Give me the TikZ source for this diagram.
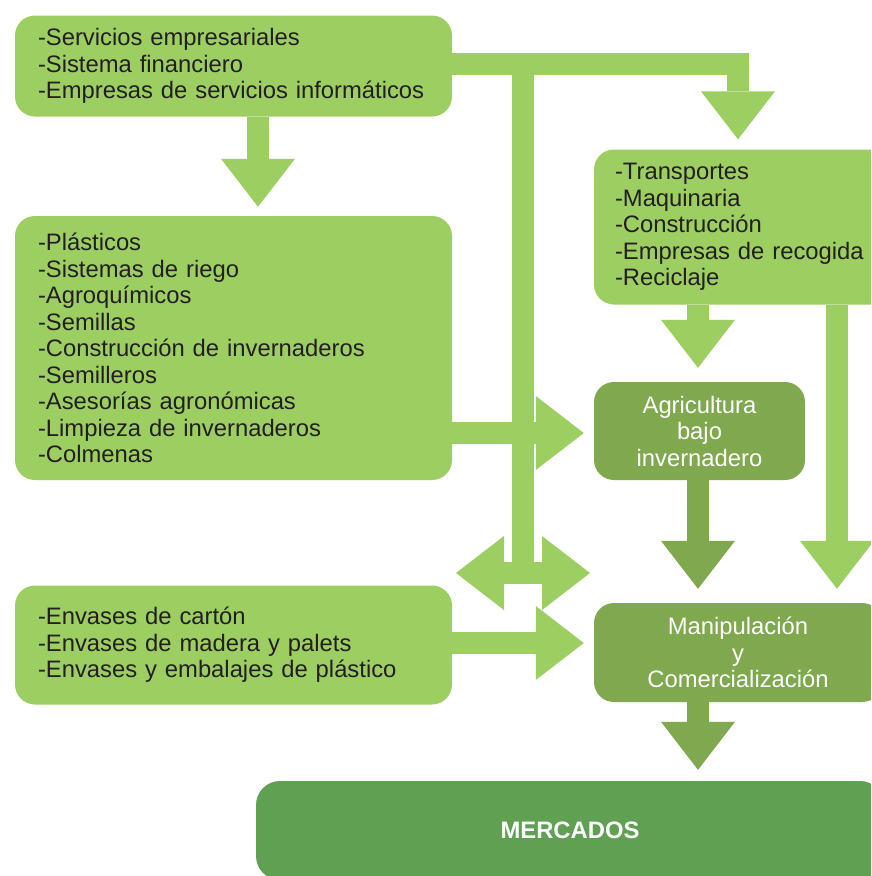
\documentclass[tikz,border=0pt]{standalone}
\usepackage{fontspec}
\setmainfont{Liberation Sans}
\usetikzlibrary{arrows.meta}
\definecolor{lightg}{RGB}{157,206,98}
\definecolor{darkg}{RGB}{128,168,78}
\definecolor{marketg}{RGB}{95,160,82}
\definecolor{ink}{RGB}{35,31,32}
\tikzstyle{listbox} = [rectangle, rounded corners=20pt, fill=lightg, text=ink, align=left, inner xsep=23pt, inner ysep=0pt, font=\fontsize{23.8}{26.5}\selectfont]
\tikzstyle{stagebox} = [rectangle, rounded corners=20pt, fill=darkg, text=white, align=center, inner sep=0pt, font=\fontsize{23.8}{26.5}\selectfont]
\tikzstyle{marketbox} = [rectangle, rounded corners=24pt, fill=marketg, text=white, inner sep=0pt, font=\fontsize{23.8}{26.5}\selectfont\bfseries]
\tikzstyle{arrow} = [line width=22pt, draw=lightg, -{Triangle[length=48pt,width=74pt,line width=0pt]}]
\tikzstyle{darkarrow} = [arrow, draw=darkg]

\begin{document}
\begin{tikzpicture}[x=1pt, y=-1pt]
    \clip (0,0) rectangle (871,876);

    % Nodes
    \node (svc) [listbox, text width=391pt, minimum height=101pt] at (233.5,66) {-Servicios empresariales\\-Sistema financiero\\-Empresas de servicios informáticos};
    \node (plas) [listbox, text width=391pt, minimum height=264pt] at (233.5,348) {-Plásticos\\-Sistemas de riego\\-Agroquímicos\\-Semillas\\-Construcción de invernaderos\\-Semilleros\\-Asesorías agronómicas\\-Limpieza de invernaderos\\-Colmenas};
    \node (env) [listbox, text width=391pt, minimum height=119pt] at (233.5,645) {-Envases de cartón\\-Envases de madera y palets\\-Envases y embalajes de plástico};
    \node (trans) [listbox, inner xsep=21pt, text width=272pt, minimum height=155pt] at (751,227) {-Transportes\\-Maquinaria\\-Construcción\\-Empresas de recogida\\-Reciclaje};
    \node (agri) [stagebox, minimum width=211pt, minimum height=98pt] at (699.5,431) {Agricultura\\bajo\\invernadero};
    \node (manip) [stagebox, minimum width=288pt, minimum height=99pt] at (738,652.5) {Manipulación\\y\\Comercialización};
    \node (merc) [marketbox, minimum width=628pt, minimum height=99pt] at (570,830.5) {MERCADOS};

    % Columns, rows and free ends
    \coordinate (cA) at (258,0);
    \coordinate (cC) at (738,0);
    \coordinate (cD) at (698,0);
    \coordinate (cE) at (837,0);
    \coordinate (rPl) at (0,433);
    \coordinate (rEnv) at (0,643);
    \coordinate (jTop) at (523,64);
    \coordinate (jDbl) at (523,573);
    \coordinate (dblL) at (456,573);
    \coordinate (dblR) at (590,573);

    % Arrows
    \draw [arrow, shorten >=9pt] (svc.south -| cA) -- (plas.north -| cA);
    \draw [arrow, shorten >=10pt] (svc.east |- jTop) -| (trans.north -| cC);
    \draw [arrow, -] (jTop) -- (jDbl);
    \draw [arrow, {Triangle[length=48pt,width=74pt,line width=0pt]}-{Triangle[length=48pt,width=74pt,line width=0pt]}] (dblL) -- (dblR);
    \draw [arrow, shorten >=10pt] (plas.east |- rPl) -- (agri.west |- rPl);
    \draw [arrow, shorten >=10pt] (env.east |- rEnv) -- (manip.west |- rEnv);
    \draw [arrow, shorten >=14pt] (trans.south -| cD) -- (agri.north -| cD);
    \draw [arrow, shorten >=14pt] (trans.south -| cE) -- (manip.north -| cE);
    \draw [darkarrow, shorten >=14pt] (agri.south -| cD) -- (manip.north -| cD);
    \draw [darkarrow, shorten >=11pt] (manip.south -| cD) -- (merc.north -| cD);
\end{tikzpicture}
\end{document}
